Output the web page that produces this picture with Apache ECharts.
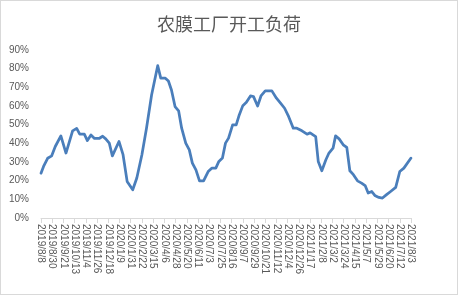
<!DOCTYPE html>
<html>
<head>
<meta charset="utf-8">
<script src="https://cdn.jsdelivr.net/npm/echarts@6/dist/echarts.min.js"></script>
<style>
html,body{margin:0;padding:0;background:#fff;}
#c{width:458px;height:295px;box-sizing:border-box;border:1px solid #d9d9d9;}
</style>
</head>
<body>
<div id="c"></div>
<script>
var title = '农膜工厂开工负荷';
var startDate = '2019/8/8';
var endDate = '2021/8/3';
var tickDays = 22;
var yTicks = [0, 10, 20, 30, 40, 50, 60, 70, 80, 90];
var dates = [
 '2019/8/8','2019/8/13','2019/8/21','2019/8/29','2019/9/5','2019/9/16','2019/9/26','2019/10/9','2019/10/17','2019/10/23',
 '2019/11/1','2019/11/7','2019/11/14','2019/11/21','2019/11/30','2019/12/7','2019/12/13','2019/12/20','2019/12/26','2020/1/8',
 '2020/1/16','2020/1/24','2020/2/4','2020/2/12','2020/2/22','2020/3/2','2020/3/12','2020/3/24','2020/3/30','2020/4/8',
 '2020/4/14','2020/4/20','2020/4/27','2020/5/4','2020/5/10','2020/5/18','2020/5/25','2020/5/31','2020/6/7','2020/6/14',
 '2020/6/22','2020/7/1','2020/7/8','2020/7/16','2020/7/22','2020/7/29','2020/8/4','2020/8/10','2020/8/18','2020/8/25',
 '2020/8/31','2020/9/7','2020/9/14','2020/9/22','2020/9/28','2020/10/6','2020/10/13','2020/10/21','2020/11/3','2020/11/12',
 '2020/11/20','2020/11/28','2020/12/6','2020/12/15','2020/12/22','2021/1/1','2021/1/11','2021/1/17','2021/1/28','2021/2/2',
 '2021/2/9','2021/2/17','2021/2/23','2021/3/3','2021/3/8','2021/3/15','2021/3/23','2021/3/30','2021/4/5','2021/4/12',
 '2021/4/20','2021/4/28','2021/5/5','2021/5/11','2021/5/18','2021/5/24','2021/6/1','2021/6/8','2021/6/16','2021/6/24',
 '2021/7/4','2021/7/12','2021/7/20','2021/8/3'
];
var loads = [
 24,27.6,32,33.3,38.3,44,34.8,46.7,48,44.9,
 44.9,41.5,44.5,42.6,42.6,43.8,42.4,40.1,33.3,41,
 33.9,19.6,15.1,21.4,33.9,48.1,65.9,81.6,74.9,74.9,
 73.4,68.6,59.7,57.4,48.1,40.1,36.5,29.4,25.8,19.9,
 19.9,24.9,26.7,26.7,30.3,32.1,40.1,42.8,49.9,49.9,
 55.2,60.2,62,65.4,65,60,65.6,68.1,68.1,64.2,
 61.5,58.8,54.3,48.1,48.1,46.7,44.9,45.6,43.6,30.3,
 25.3,31.2,34.8,37.4,44,42.4,39.2,37.8,25.3,23.2,
 19.9,18.7,17.4,13.4,14.2,12.1,11,10.7,12.5,14.2,
 16.4,24.9,26.7,32.1
];

function toUTC(s){var p=s.split('/');return Date.UTC(+p[0],+p[1]-1,+p[2]);}
var DAY = 86400000;
var t0 = toUTC(startDate);
var span = Math.round((toUTC(endDate)-t0)/DAY);
function dayToLabel(v){
  var d = new Date(t0 + v*DAY);
  return d.getUTCFullYear()+'/'+(d.getUTCMonth()+1)+'/'+d.getUTCDate();
}
var seriesData = dates.map(function(s,i){return [Math.round((toUTC(s)-t0)/DAY), loads[i]];});

var chart = echarts.init(document.getElementById('c'), null, {renderer:'canvas'});
chart.setOption({
  animation:false,
  title:{text:title,left:'center',top:9,textStyle:{fontFamily:'Noto Sans CJK SC',fontSize:18,fontWeight:'normal',color:'#595959'}},
  grid:{left:40,right:46,top:49,bottom:76,containLabel:false},
  xAxis:{
    type:'value',min:0,max:span,interval:tickDays,
    axisLine:{show:true,lineStyle:{color:'#d9d9d9',width:1}},
    axisTick:{show:true,length:5,lineStyle:{color:'#d9d9d9'}},
    splitLine:{show:false},
    axisLabel:{rotate:-90,margin:6,fontSize:10,color:'#595959',fontFamily:'Liberation Sans',formatter:dayToLabel,showMinLabel:true,showMaxLabel:true}
  },
  yAxis:{
    type:'value',min:yTicks[0],max:yTicks[yTicks.length-1],interval:yTicks[1]-yTicks[0],
    axisLine:{show:false},axisTick:{show:false},splitLine:{show:false},
    axisLabel:{fontSize:10,color:'#595959',margin:12,fontFamily:'Liberation Sans',formatter:'{value}%'}
  },
  series:[{type:'line',data:seriesData,showSymbol:false,smooth:false,
    lineStyle:{color:'#4a7ebb',width:2.75,join:'round',cap:'round'}}]
});
</script>
</body>
</html>
